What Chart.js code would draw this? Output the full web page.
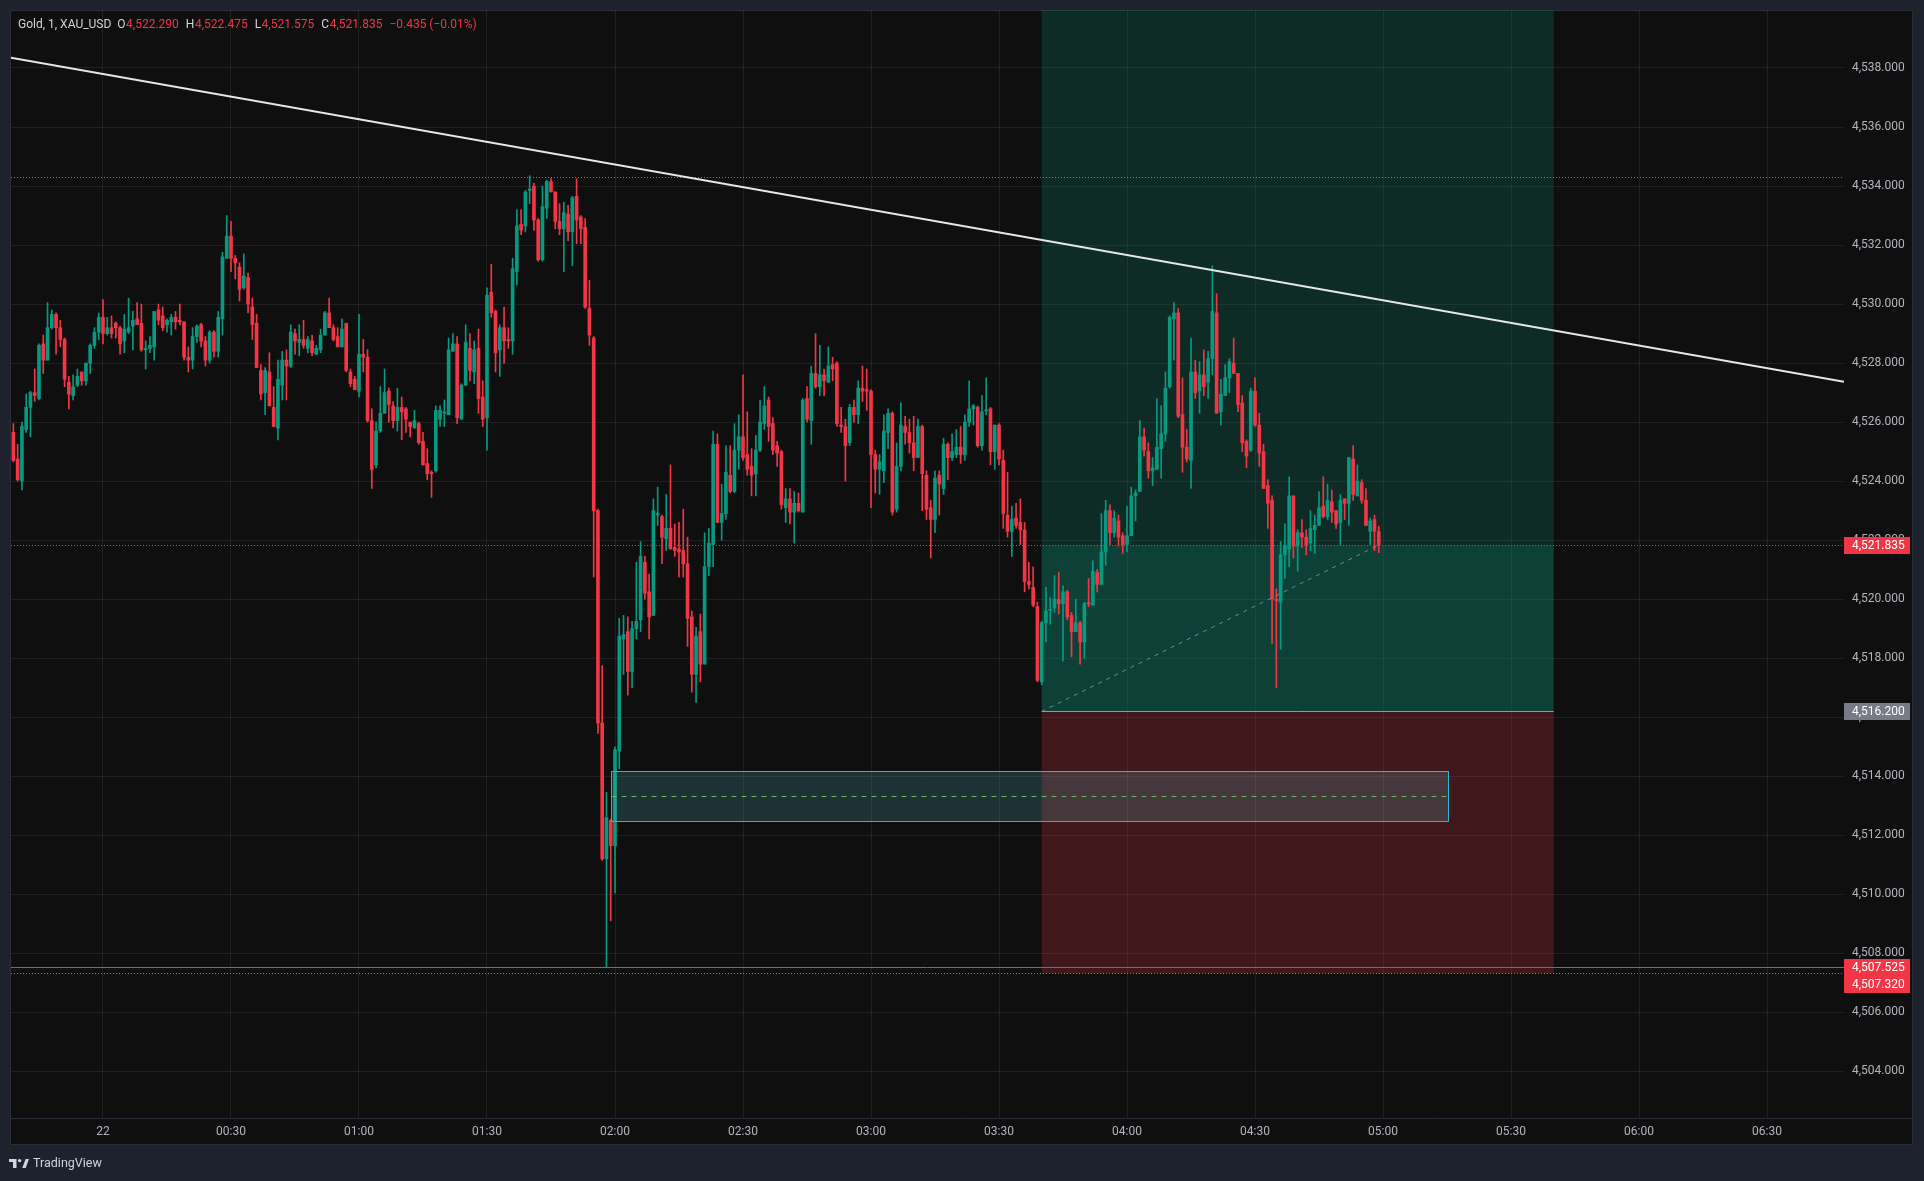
<!DOCTYPE html>
<html>
<head>
<meta charset="utf-8">
<title>Gold, 1, XAU_USD</title>
<script src="https://cdn.jsdelivr.net/npm/chart.js@4.4.1/dist/chart.umd.min.js"></script>
<style>
  html, body { margin: 0; padding: 0; background: #1e222d; }
  canvas { display: block; }
</style>
</head>
<body>
<canvas id="goldChart" width="1924" height="1181"></canvas>
<script>
// 1-minute XAU/USD candles, [open, high, low, close], grouped by hour
// first candle is 23:39 (minute -21 relative to 00:00)
const firstMinute = -21;

const bars2339 = [
  [4525.65, 4525.95, 4524.65, 4524.70], [4524.75, 4525.25, 4524.00, 4524.05], [4524.00, 4526.00, 4523.70, 4525.85],
  [4525.75, 4526.95, 4525.65, 4526.50], [4526.50, 4527.05, 4525.50, 4527.00], [4527.00, 4527.80, 4526.70, 4526.90],
  [4526.80, 4528.65, 4526.75, 4528.60], [4528.65, 4528.95, 4527.65, 4528.10], [4528.10, 4530.05, 4528.10, 4529.20],
  [4529.20, 4529.80, 4529.15, 4529.65], [4529.65, 4529.70, 4528.30, 4529.20], [4529.20, 4529.45, 4528.55, 4528.80],
  [4528.80, 4528.85, 4527.20, 4527.45], [4527.35, 4527.55, 4526.45, 4526.95], [4526.90, 4527.60, 4526.75, 4527.20],
  [4527.25, 4527.80, 4527.20, 4527.55], [4527.70, 4527.70, 4527.25, 4527.40], [4527.40, 4528.00, 4527.25, 4528.00],
  [4528.00, 4528.65, 4527.65, 4528.60], [4528.60, 4529.20, 4528.50, 4529.05], [4529.05, 4529.70, 4528.80, 4529.55]
];

const bars00 = [
  [4529.55, 4530.15, 4528.65, 4529.00], [4529.00, 4529.55, 4528.95, 4529.20], [4529.20, 4529.60, 4528.85, 4529.00],
  [4529.35, 4529.40, 4528.85, 4529.20], [4529.20, 4529.25, 4528.30, 4528.65], [4528.75, 4529.65, 4528.35, 4529.15],
  [4529.05, 4530.20, 4529.00, 4529.20], [4529.25, 4529.75, 4528.45, 4529.45], [4529.50, 4530.05, 4529.30, 4529.30],
  [4529.35, 4530.00, 4528.40, 4528.45], [4528.45, 4528.75, 4527.80, 4528.50], [4528.50, 4528.90, 4528.35, 4528.60],
  [4528.55, 4529.75, 4528.10, 4529.75], [4529.80, 4530.00, 4529.30, 4529.45], [4529.60, 4529.90, 4529.10, 4529.20],
  [4529.30, 4529.50, 4529.05, 4529.45], [4529.40, 4529.65, 4528.95, 4529.55], [4529.55, 4529.75, 4529.15, 4529.40],
  [4529.45, 4530.00, 4529.30, 4529.40], [4529.40, 4529.40, 4528.10, 4528.20], [4528.20, 4528.55, 4527.70, 4528.10],
  [4528.10, 4529.20, 4527.80, 4528.90], [4528.90, 4529.30, 4528.70, 4529.25], [4529.30, 4529.35, 4528.55, 4528.75],
  [4528.75, 4528.90, 4527.90, 4528.10], [4528.10, 4529.10, 4528.00, 4529.05], [4529.05, 4529.10, 4528.20, 4528.40],
  [4528.40, 4529.75, 4528.20, 4529.55], [4529.50, 4531.75, 4528.95, 4531.60], [4531.55, 4533.00, 4531.55, 4532.30],
  [4532.30, 4532.80, 4531.10, 4531.55], [4531.55, 4531.65, 4530.85, 4531.40], [4531.25, 4531.40, 4530.10, 4530.50],
  [4530.55, 4531.70, 4530.50, 4530.95], [4530.90, 4531.05, 4529.70, 4530.00], [4529.90, 4530.20, 4528.80, 4529.30],
  [4529.35, 4529.65, 4527.85, 4527.85], [4527.75, 4527.95, 4526.75, 4526.95], [4527.00, 4527.85, 4526.25, 4527.75],
  [4527.70, 4528.35, 4526.55, 4526.55], [4526.50, 4527.20, 4525.85, 4525.85], [4525.80, 4528.10, 4525.40, 4527.45],
  [4527.25, 4528.40, 4526.75, 4528.10], [4528.10, 4528.45, 4526.75, 4527.90], [4527.90, 4529.30, 4527.85, 4529.05],
  [4529.00, 4529.15, 4528.30, 4528.75], [4528.70, 4529.30, 4528.25, 4528.80], [4528.80, 4529.45, 4528.50, 4528.60],
  [4528.50, 4528.90, 4528.35, 4528.80], [4528.75, 4528.95, 4528.25, 4528.35], [4528.30, 4528.60, 4528.30, 4528.50],
  [4528.45, 4529.15, 4528.35, 4528.95], [4528.95, 4529.75, 4528.95, 4529.70], [4529.70, 4530.20, 4529.20, 4529.20],
  [4529.20, 4529.30, 4528.75, 4528.80], [4528.90, 4529.20, 4528.55, 4528.55], [4528.55, 4529.50, 4528.55, 4529.15],
  [4529.35, 4529.35, 4527.70, 4527.75], [4527.70, 4527.80, 4527.20, 4527.30], [4527.45, 4527.55, 4527.10, 4527.10]
];

const bars01 = [
  [4527.05, 4529.65, 4526.85, 4528.30], [4528.30, 4528.80, 4527.70, 4528.20], [4528.20, 4528.45, 4526.00, 4526.05],
  [4526.05, 4526.45, 4523.75, 4524.40], [4524.55, 4526.00, 4524.45, 4525.70], [4525.70, 4527.20, 4525.65, 4526.30],
  [4526.30, 4527.80, 4526.30, 4527.00], [4527.05, 4527.15, 4526.00, 4526.60], [4526.55, 4526.70, 4525.80, 4526.05],
  [4526.05, 4527.15, 4525.70, 4526.50], [4526.50, 4526.85, 4525.40, 4526.35], [4526.45, 4526.50, 4525.65, 4526.10],
  [4526.00, 4526.00, 4525.50, 4525.85], [4525.80, 4526.40, 4525.80, 4526.05], [4525.95, 4526.00, 4525.25, 4525.30],
  [4525.35, 4525.65, 4524.55, 4524.55], [4524.60, 4525.10, 4524.05, 4524.25], [4524.30, 4524.35, 4523.45, 4524.25],
  [4524.35, 4526.55, 4524.30, 4526.40], [4526.10, 4526.55, 4525.85, 4526.40], [4526.30, 4526.75, 4525.85, 4526.35],
  [4526.25, 4528.85, 4526.25, 4528.45], [4528.40, 4529.00, 4528.40, 4528.65], [4528.65, 4528.90, 4525.95, 4526.15],
  [4526.10, 4527.30, 4526.10, 4527.25], [4527.25, 4529.30, 4527.25, 4528.70], [4528.50, 4529.00, 4527.40, 4527.75],
  [4527.70, 4528.75, 4527.30, 4528.45], [4528.50, 4529.15, 4526.30, 4526.80], [4526.85, 4527.40, 4525.85, 4526.10],
  [4526.15, 4530.55, 4525.05, 4530.30], [4530.40, 4531.35, 4529.55, 4529.70], [4529.75, 4529.80, 4527.70, 4528.35],
  [4528.45, 4529.30, 4527.55, 4529.20], [4529.20, 4529.90, 4528.00, 4528.75], [4528.80, 4529.20, 4528.50, 4528.75],
  [4528.75, 4531.55, 4528.30, 4531.20], [4531.10, 4533.20, 4530.65, 4532.65], [4532.70, 4533.20, 4532.35, 4532.50],
  [4532.65, 4533.85, 4532.45, 4533.80], [4533.85, 4534.35, 4533.40, 4533.90], [4534.00, 4534.10, 4532.50, 4532.85],
  [4532.85, 4532.90, 4531.45, 4531.50], [4531.50, 4534.00, 4531.45, 4533.30], [4533.25, 4534.20, 4532.90, 4534.15],
  [4534.15, 4534.25, 4533.80, 4533.80], [4533.80, 4533.80, 4532.55, 4532.80], [4532.80, 4533.40, 4532.35, 4532.55],
  [4532.55, 4533.45, 4531.10, 4533.10], [4533.05, 4533.35, 4532.15, 4532.45], [4532.45, 4533.65, 4531.30, 4533.60],
  [4533.65, 4534.25, 4532.05, 4532.85], [4532.95, 4533.00, 4532.05, 4532.55], [4532.60, 4532.90, 4529.85, 4529.90],
  [4529.85, 4530.80, 4528.60, 4528.95], [4528.85, 4528.90, 4520.75, 4523.00], [4523.00, 4523.05, 4515.45, 4515.80],
  [4515.80, 4517.75, 4511.15, 4511.20], [4511.20, 4513.45, 4507.525, 4512.60], [4512.50, 4512.55, 4509.10, 4511.65]
];

const bars02 = [
  [4511.65, 4515.00, 4510.05, 4514.90], [4514.85, 4519.35, 4514.25, 4518.75], [4518.65, 4519.45, 4517.45, 4518.80],
  [4518.90, 4519.40, 4516.75, 4517.55], [4517.55, 4519.25, 4517.00, 4519.00], [4519.00, 4521.25, 4518.65, 4519.25],
  [4519.30, 4521.95, 4518.90, 4521.45], [4521.25, 4521.45, 4520.00, 4520.20], [4520.25, 4520.85, 4518.65, 4519.40],
  [4519.45, 4523.40, 4519.45, 4523.00], [4522.85, 4523.80, 4522.50, 4522.90], [4522.80, 4522.85, 4521.20, 4522.10],
  [4522.05, 4523.55, 4521.65, 4522.40], [4522.40, 4524.55, 4521.70, 4521.70], [4521.75, 4522.55, 4521.45, 4521.65],
  [4521.70, 4522.60, 4520.75, 4521.60], [4521.65, 4523.05, 4520.75, 4521.20], [4521.20, 4522.10, 4518.40, 4519.35],
  [4519.40, 4519.60, 4516.85, 4517.45], [4517.45, 4519.05, 4516.50, 4518.75], [4518.90, 4519.50, 4517.20, 4517.80],
  [4517.80, 4522.25, 4517.80, 4521.10], [4521.10, 4522.40, 4520.80, 4521.90], [4521.85, 4525.70, 4521.10, 4525.25],
  [4525.25, 4525.60, 4522.60, 4522.60], [4522.60, 4523.90, 4522.00, 4522.90], [4522.90, 4525.20, 4522.70, 4524.30],
  [4524.20, 4525.20, 4523.60, 4523.65], [4523.65, 4525.95, 4523.60, 4525.05], [4525.05, 4526.25, 4524.40, 4525.50],
  [4525.50, 4527.60, 4524.70, 4524.80], [4524.90, 4526.35, 4524.20, 4524.40], [4524.50, 4525.10, 4523.50, 4524.20],
  [4524.25, 4525.55, 4523.50, 4525.05], [4525.05, 4526.75, 4525.00, 4526.00], [4525.95, 4527.20, 4525.75, 4526.55],
  [4526.75, 4526.85, 4525.35, 4525.85], [4525.95, 4526.15, 4524.90, 4525.05], [4525.20, 4525.35, 4524.50, 4524.95],
  [4525.00, 4525.05, 4523.05, 4523.20], [4523.10, 4523.75, 4522.60, 4523.40], [4523.40, 4523.75, 4522.55, 4522.95],
  [4522.95, 4523.65, 4521.90, 4523.25], [4523.25, 4523.60, 4522.95, 4523.00], [4522.95, 4526.80, 4522.95, 4526.75],
  [4526.80, 4527.20, 4526.00, 4526.10], [4526.05, 4527.90, 4525.25, 4527.65], [4527.65, 4529.00, 4527.15, 4527.20],
  [4527.20, 4528.60, 4526.90, 4527.60], [4527.60, 4527.80, 4526.90, 4527.40], [4527.35, 4528.55, 4527.35, 4527.90],
  [4527.95, 4528.20, 4527.40, 4527.80], [4528.00, 4528.05, 4525.85, 4525.95], [4525.90, 4526.50, 4525.65, 4525.85],
  [4525.85, 4526.10, 4524.00, 4525.20], [4525.30, 4526.60, 4525.20, 4526.50], [4526.50, 4526.75, 4526.00, 4526.25],
  [4526.25, 4527.40, 4525.95, 4527.15], [4527.15, 4527.90, 4526.70, 4527.05], [4527.10, 4527.80, 4526.40, 4527.05]
];

const bars03 = [
  [4527.05, 4527.10, 4523.10, 4524.90], [4524.90, 4525.05, 4523.60, 4524.40], [4524.40, 4524.90, 4523.55, 4524.65],
  [4524.35, 4526.25, 4523.95, 4525.70], [4525.65, 4526.45, 4525.10, 4526.30], [4526.30, 4526.35, 4522.85, 4522.95],
  [4523.05, 4525.30, 4522.95, 4524.50], [4524.50, 4526.65, 4524.35, 4525.90], [4525.85, 4526.20, 4525.25, 4525.65],
  [4525.65, 4526.10, 4524.95, 4525.30], [4525.30, 4526.20, 4524.35, 4524.80], [4524.80, 4526.10, 4524.80, 4525.85],
  [4525.85, 4525.90, 4523.00, 4524.25], [4524.20, 4524.35, 4522.70, 4523.05], [4523.10, 4523.35, 4521.40, 4522.70],
  [4522.70, 4524.35, 4522.25, 4524.10], [4524.20, 4524.35, 4522.85, 4523.90], [4523.75, 4525.45, 4523.55, 4525.25],
  [4525.25, 4525.30, 4524.05, 4524.80], [4524.80, 4525.60, 4524.70, 4525.00], [4524.90, 4525.75, 4524.80, 4525.15],
  [4525.15, 4525.85, 4524.60, 4524.90], [4524.90, 4526.25, 4524.70, 4526.00], [4526.00, 4527.40, 4525.85, 4526.45],
  [4526.45, 4526.60, 4525.90, 4526.55], [4526.50, 4526.55, 4525.15, 4525.20], [4525.20, 4526.90, 4525.05, 4526.35],
  [4526.38, 4527.50, 4526.25, 4526.42], [4526.45, 4526.50, 4524.55, 4525.00], [4525.00, 4525.90, 4524.40, 4525.90],
  [4525.90, 4525.95, 4524.55, 4524.75], [4524.70, 4525.05, 4522.40, 4522.90], [4522.85, 4524.30, 4522.10, 4522.30],
  [4522.30, 4523.15, 4521.45, 4522.70], [4522.75, 4523.25, 4522.40, 4522.50], [4522.60, 4523.40, 4521.85, 4522.35],
  [4522.35, 4522.60, 4520.25, 4520.60], [4520.60, 4521.25, 4520.35, 4520.50], [4520.40, 4521.10, 4519.75, 4519.80],
  [4519.75, 4519.90, 4517.20, 4517.25], [4517.20, 4519.25, 4517.10, 4519.20], [4519.20, 4520.40, 4518.55, 4519.60],
  [4519.62, 4520.05, 4519.15, 4519.65], [4519.70, 4520.80, 4519.55, 4520.00], [4520.00, 4520.90, 4519.50, 4519.85],
  [4519.85, 4520.45, 4517.90, 4520.25], [4520.25, 4520.30, 4519.30, 4519.40], [4519.45, 4519.55, 4518.05, 4518.90],
  [4518.90, 4520.00, 4518.90, 4519.20], [4519.20, 4519.25, 4517.80, 4518.55], [4518.55, 4519.90, 4518.00, 4519.85],
  [4519.88, 4520.70, 4519.75, 4519.84], [4519.80, 4521.30, 4519.80, 4520.95], [4520.90, 4521.00, 4520.25, 4520.50],
  [4520.50, 4522.90, 4520.50, 4521.60], [4521.60, 4523.35, 4521.15, 4523.00], [4523.00, 4523.20, 4521.85, 4522.25],
  [4522.25, 4523.00, 4522.10, 4522.75], [4522.65, 4522.85, 4521.80, 4522.10], [4522.15, 4522.25, 4521.55, 4521.85]
];

const bars04 = [
  [4521.85, 4523.15, 4521.60, 4522.15], [4522.15, 4523.80, 4522.15, 4523.50], [4523.50, 4523.70, 4522.65, 4523.60],
  [4523.65, 4526.05, 4523.65, 4525.50], [4525.50, 4525.80, 4524.85, 4525.05], [4525.00, 4525.30, 4524.10, 4524.35],
  [4524.35, 4524.80, 4523.85, 4524.45], [4524.40, 4526.80, 4524.40, 4525.15], [4525.10, 4526.55, 4524.10, 4525.60],
  [4525.60, 4527.70, 4525.35, 4527.15], [4527.20, 4529.60, 4527.15, 4529.55], [4529.50, 4530.05, 4528.10, 4529.70],
  [4529.70, 4529.85, 4526.15, 4526.20], [4526.25, 4527.50, 4524.30, 4525.15], [4525.15, 4525.75, 4524.65, 4524.75],
  [4524.70, 4528.85, 4523.75, 4527.70], [4527.70, 4528.10, 4526.80, 4527.00], [4527.05, 4528.05, 4526.30, 4527.60],
  [4527.60, 4528.45, 4526.90, 4527.20], [4527.35, 4528.40, 4526.80, 4528.15], [4528.15, 4531.30, 4527.60, 4529.75],
  [4529.70, 4530.35, 4526.30, 4526.30], [4526.35, 4527.45, 4525.90, 4526.95], [4526.90, 4527.95, 4526.90, 4527.50],
  [4527.50, 4528.15, 4527.00, 4528.05], [4528.00, 4528.85, 4527.65, 4527.65], [4527.65, 4527.65, 4526.35, 4526.60],
  [4526.65, 4526.90, 4525.00, 4525.30], [4525.35, 4525.40, 4524.45, 4524.85], [4525.05, 4527.15, 4525.00, 4527.05],
  [4527.05, 4527.50, 4525.85, 4525.90], [4525.90, 4526.30, 4524.50, 4524.95], [4525.00, 4525.25, 4523.75, 4523.75],
  [4523.85, 4524.05, 4522.40, 4523.25], [4523.35, 4523.50, 4518.50, 4520.00], [4520.00, 4520.35, 4517.00, 4519.95],
  [4519.90, 4521.95, 4518.30, 4521.50], [4521.50, 4522.55, 4520.70, 4521.80], [4521.70, 4524.15, 4521.10, 4523.50],
  [4523.50, 4523.50, 4521.40, 4521.80], [4521.80, 4522.35, 4520.95, 4522.25], [4522.25, 4522.70, 4521.75, 4522.10],
  [4522.10, 4522.35, 4521.50, 4521.85], [4521.90, 4523.00, 4521.65, 4522.40], [4522.35, 4522.85, 4521.55, 4522.50],
  [4522.50, 4523.65, 4522.50, 4523.10], [4523.15, 4524.15, 4522.75, 4522.80], [4522.80, 4523.90, 4522.70, 4523.35],
  [4523.30, 4523.70, 4522.60, 4522.95], [4523.00, 4523.00, 4522.40, 4522.55], [4522.60, 4523.55, 4521.85, 4523.35],
  [4523.40, 4523.40, 4522.70, 4523.25], [4523.25, 4524.80, 4522.50, 4524.80], [4524.75, 4525.20, 4523.35, 4523.55],
  [4523.50, 4524.55, 4523.50, 4524.00], [4523.95, 4524.05, 4523.25, 4523.35], [4523.35, 4523.75, 4522.50, 4522.50],
  [4522.30, 4522.75, 4521.85, 4522.65], [4522.70, 4522.85, 4521.65, 4522.30], [4522.29, 4522.475, 4521.575, 4521.835]
];

// axis ticks (minutes from 00:00 and price levels)
const timeTicks = [0, 30, 60, 90, 120, 150, 180, 210, 240, 270, 300, 330, 360, 390];
const timeLabels = ['22', '00:30', '01:00', '01:30', '02:00', '02:30', '03:00', '03:30', '04:00', '04:30', '05:00', '05:30', '06:00', '06:30'];
const priceTicks = [4504, 4506, 4508, 4510, 4512, 4514, 4516, 4518, 4520, 4522, 4524, 4526, 4528, 4530, 4532, 4534, 4536, 4538];

// drawings on the chart
const trendLine = [{ x: -21.56, y: 4538.35 }, { x: 408.04, y: 4527.37 }];
const highLevel = 4534.31;
const lastPrice = 4521.835;
const lowLevel = 4507.525;
const stopPrice = 4507.32;
const entryPrice = 4516.2;
const targetPrice = 4542;
const positionStart = 220, positionEnd = 340;
const zoneStart = 119.1, zoneEnd = 315.2;
const zoneTop = 4514.18, zoneBottom = 4512.48, zoneMid = 4513.33;

const header = { name: 'Gold, 1, XAU_USD', o: '4,522.290', h: '4,522.475', l: '4,521.575', c: '4,521.835', chg: '\u22120.435 (\u22120.01%)' };

const upColor = '#089981';
const downColor = '#f23645';
const gridColor = 'rgba(255,255,255,0.075)';
const textColor = '#b2b5be';
const fontFamily = 'Roboto, "Noto Sans", sans-serif';

const allBars = [].concat(bars2339, bars00, bars01, bars02, bars03, bars04);
const barColors = allBars.map(b => b[3] >= b[0] ? upColor : downColor);
const wickData = allBars.map((b, i) => ({ x: firstMinute + i, y: [Math.min(b[2], b[0], b[3]), Math.max(b[1], b[0], b[3])] }));
const bodyData = allBars.map((b, i) => ({ x: firstMinute + i, y: [b[0], b[3]] }));
const lastMinute = firstMinute + allBars.length - 1;

const fmtPrice = v => Number(v).toLocaleString('en-US', { minimumFractionDigits: 3, maximumFractionDigits: 3 });

function hLine(c, area, y, color, dash) {
    c.save();
    c.strokeStyle = color;
    c.lineWidth = 1;
    c.setLineDash(dash);
    c.beginPath();
    c.moveTo(area.left, Math.round(y) + 0.5);
    c.lineTo(area.right, Math.round(y) + 0.5);
    c.stroke();
    c.restore();
}

function priceTag(c, y, text, bg) {
    c.fillStyle = bg;
    c.fillRect(1844, Math.round(y - 8.5), 66, 17);
    c.fillStyle = '#ffffff';
    c.font = '12px ' + fontFamily;
    c.textAlign = 'left';
    c.textBaseline = 'middle';
    c.fillText(text, 1852, Math.round(y - 8.5) + 9);
}

const tvLook = {
    id: 'tvLook',
    beforeDraw(chart) {
        const c = chart.ctx, a = chart.chartArea;
        c.save();
        c.fillStyle = '#1e222d';
        c.fillRect(0, 0, chart.width, chart.height);
        c.fillStyle = '#0f0f0f';
        c.fillRect(10, 10, 1903, 1135);
        c.strokeStyle = '#2a2e39';
        c.lineWidth = 1;
        c.strokeRect(10.5, 10.5, 1902, 1134);
        c.beginPath();
        c.moveTo(10, a.bottom + 0.5);
        c.lineTo(1913, a.bottom + 0.5);
        c.stroke();
        c.restore();
    },
    beforeDatasetsDraw(chart) {
        const c = chart.ctx, a = chart.chartArea, xs = chart.scales.x, ys = chart.scales.y;
        c.save();
        c.beginPath();
        c.rect(a.left, a.top, a.width, a.height);
        c.clip();
        // long position: profit zone, filled part, stop zone
        const x0 = xs.getPixelForValue(positionStart), x1 = xs.getPixelForValue(positionEnd);
        const yT = ys.getPixelForValue(targetPrice), yE = ys.getPixelForValue(entryPrice);
        const yS = ys.getPixelForValue(stopPrice), yL = ys.getPixelForValue(lastPrice);
        c.fillStyle = 'rgba(8,153,129,0.2)';
        c.fillRect(x0, yT, x1 - x0, yE - yT);
        c.fillRect(x0, yL, x1 - x0, yE - yL);
        c.fillStyle = 'rgba(242,54,69,0.22)';
        c.fillRect(x0, yE, x1 - x0, yS - yE);
        c.restore();
        // horizontal levels
        hLine(c, a, ys.getPixelForValue(highLevel), 'rgba(178,181,190,0.65)', [1, 2]);
        hLine(c, a, ys.getPixelForValue(lastPrice), downColor, [1, 2]);
        hLine(c, a, ys.getPixelForValue(lowLevel), downColor, []);
        hLine(c, a, ys.getPixelForValue(stopPrice), 'rgba(178,181,190,0.65)', [1, 2]);
    },
    afterDatasetsDraw(chart) {
        const c = chart.ctx, a = chart.chartArea, xs = chart.scales.x, ys = chart.scales.y;
        c.save();
        c.beginPath();
        c.rect(a.left, a.top, a.width, a.height);
        c.clip();
        // rectangle zone
        const bx0 = Math.round(xs.getPixelForValue(zoneStart)) + 0.5, bx1 = Math.round(xs.getPixelForValue(zoneEnd)) + 0.5;
        const by0 = Math.round(ys.getPixelForValue(zoneTop)) + 0.5, by1 = Math.round(ys.getPixelForValue(zoneBottom)) + 0.5;
        c.fillStyle = 'rgba(100,205,220,0.18)';
        c.fillRect(bx0, by0, bx1 - bx0, by1 - by0);
        c.strokeStyle = '#29b6d0';
        c.lineWidth = 1;
        c.strokeRect(bx0, by0, bx1 - bx0, by1 - by0);
        const ym = Math.round(ys.getPixelForValue(zoneMid)) + 0.5;
        c.strokeStyle = '#5fb760';
        c.setLineDash([5, 5]);
        c.beginPath();
        c.moveTo(bx0, ym);
        c.lineTo(bx1, ym);
        c.stroke();
        // entry line and path to last price
        const x0 = xs.getPixelForValue(positionStart), x1 = xs.getPixelForValue(positionEnd);
        const yE = Math.round(ys.getPixelForValue(entryPrice)) + 0.5;
        c.setLineDash([]);
        c.strokeStyle = '#9598a1';
        c.beginPath();
        c.moveTo(x0, yE);
        c.lineTo(x1, yE);
        c.stroke();
        c.setLineDash([4, 5]);
        c.strokeStyle = 'rgba(149,152,161,0.8)';
        c.beginPath();
        c.moveTo(x0, yE);
        c.lineTo(xs.getPixelForValue(lastMinute), ys.getPixelForValue(lastPrice));
        c.stroke();
        c.restore();
    },
    afterDraw(chart) {
        const c = chart.ctx, ys = chart.scales.y;
        c.save();
        // price tags on the axis
        priceTag(c, ys.getPixelForValue(lastPrice), fmtPrice(lastPrice), downColor);
        priceTag(c, ys.getPixelForValue(entryPrice), fmtPrice(entryPrice), '#787b86');
        const yLow = ys.getPixelForValue(lowLevel);
        priceTag(c, yLow, fmtPrice(lowLevel), downColor);
        priceTag(c, yLow + 17, fmtPrice(stopPrice), downColor);

        // legend line at top left
        c.font = '12px ' + fontFamily;
        c.textBaseline = 'middle';
        c.textAlign = 'left';
        let x = 18;
        const put = (t, col, gap) => { c.fillStyle = col; c.fillText(t, x, 25); x += c.measureText(t).width + gap; };
        put(header.name, '#d1d4dc', 6);
        put('O', '#d1d4dc', 0.5); put(header.o, downColor, 7);
        put('H', '#d1d4dc', 0.5); put(header.h, downColor, 7);
        put('L', '#d1d4dc', 0.5); put(header.l, downColor, 7);
        put('C', '#d1d4dc', 0.5); put(header.c, downColor, 7);
        put(header.chg, downColor, 0);

        // TradingView mark
        c.fillStyle = '#d1d4dc';
        c.fillRect(9, 1159, 7, 3);
        c.fillRect(13, 1159, 3.5, 9);
        c.beginPath();
        c.arc(19.6, 1160.6, 1.7, 0, Math.PI * 2);
        c.fill();
        c.beginPath();
        c.moveTo(22.3, 1168); c.lineTo(25.6, 1159); c.lineTo(29, 1159); c.lineTo(25.7, 1168);
        c.closePath();
        c.fill();
        c.font = '12.5px ' + fontFamily;
        c.fillText('TradingView', 33, 1163.5);
        c.restore();
    }
};

const ctx = document.getElementById('goldChart').getContext('2d');
new Chart(ctx, {
    type: 'bar',
    data: {
        datasets: [
            {
                type: 'line',
                label: 'Trend',
                data: trendLine,
                borderColor: '#e6e7eb',
                borderWidth: 2,
                pointRadius: 0,
                order: 0
            },
            {
                label: 'Body',
                data: bodyData,
                backgroundColor: barColors,
                barThickness: 3,
                minBarLength: 1,
                grouped: false,
                order: 1
            },
            {
                label: 'Wick',
                data: wickData,
                backgroundColor: barColors,
                barThickness: 1,
                grouped: false,
                order: 2
            }
        ]
    },
    options: {
        responsive: false,
        animation: false,
        devicePixelRatio: 1,
        layout: { padding: { left: 11, top: 10, right: 11, bottom: 36 } },
        plugins: { legend: { display: false }, tooltip: { enabled: false } },
        scales: {
            x: {
                type: 'linear',
                min: -21.56,
                max: 408.04,
                offset: false,
                grid: { color: gridColor, drawTicks: false, offset: false },
                border: { display: false },
                ticks: {
                    color: textColor,
                    font: { family: fontFamily, size: 12 },
                    padding: 7,
                    maxRotation: 0,
                    autoSkip: false,
                    callback: (v, i) => timeLabels[i]
                },
                afterBuildTicks: s => { s.ticks = timeTicks.map(v => ({ value: v })); },
                afterFit: s => { s.height = 27; s.paddingLeft = 0; s.paddingRight = 0; }
            },
            y: {
                position: 'right',
                min: 4502.419,
                max: 4539.965,
                grid: { color: gridColor, drawTicks: false, offset: false },
                border: { display: false },
                ticks: {
                    color: textColor,
                    font: { family: fontFamily, size: 12 },
                    padding: 8,
                    autoSkip: false,
                    callback: v => fmtPrice(v)
                },
                afterBuildTicks: s => { s.ticks = priceTicks.map(v => ({ value: v })); },
                afterFit: s => { s.width = 69; s.paddingTop = 0; s.paddingBottom = 0; }
            }
        }
    },
    plugins: [tvLook]
});
</script>
</body>
</html>
